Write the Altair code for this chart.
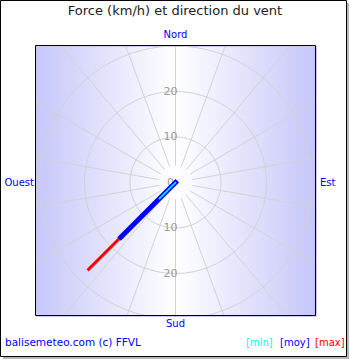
import altair as alt
import pandas as pd

# ---- data ----
series = ["min", "moy", "max"]
speeds = [5, 17, 27]
directions = [225, 225, 225]
series_colors = ["#00ffff", "#0000ff", "#ff0000"]
series_widths = [1.5, 5, 3]
legend_x = [211, 245, 280]

grid_radii = [10, 20, 30]
label_values = [0, 10, 20, 10, 20]
label_dirs = [0, 0, 0, 180, 180]

title_text = "Force (km/h) et direction du vent"
credit_text = "balisemeteo.com (c) FFVL"

K = 4.55  # px per km/h
CX, CY = 140.5, 137.5
W, H = 280, 270

xs = alt.Scale(domain=[-CX / K, (W - CX) / K])
ys = alt.Scale(domain=[-(H - CY) / K, CY / K])

def X(f):
    return alt.X(f, type="quantitative", scale=xs, axis=None)

def Y(f):
    return alt.Y(f, type="quantitative", scale=ys, axis=None)

one = alt.Data(values=[{}])

# outer frame + shadow
shadow = alt.Chart(one).mark_rect(fill="#b8b8b8").encode(
    x=alt.value(-32), x2=alt.value(314), y=alt.value(-42), y2=alt.value(314))
frame = alt.Chart(one).mark_rect(fill="white", stroke="black", strokeWidth=1).encode(
    x=alt.value(-34.5), x2=alt.value(311.5), y=alt.value(-44.5), y2=alt.value(311.5))

grad = alt.LinearGradient(
    gradient="linear", x1=0, x2=1, y1=0, y2=0,
    stops=[alt.GradientStop(offset=0, color="#c6c6fa"),
           alt.GradientStop(offset=0.5, color="#ffffff"),
           alt.GradientStop(offset=1, color="#c6c6fa")])
bg = alt.Chart(one).mark_rect(fill=grad).encode(
    x=alt.value(0), x2=alt.value(W), y=alt.value(0), y2=alt.value(H))
bshadow = alt.Chart(one).mark_rect(filled=False, stroke="#c8c8f0", strokeWidth=1).encode(
    x=alt.value(1.5), x2=alt.value(281.5), y=alt.value(1.5), y2=alt.value(271.5))

circles = alt.Chart(pd.DataFrame({"r": grid_radii})).transform_calculate(
    a="sequence(0, 362, 3)"
).transform_flatten(["a"]).transform_calculate(
    x="datum.r * sin(datum.a * PI / 180)",
    y="datum.r * cos(datum.a * PI / 180)",
).mark_line(clip=True, color="#d2d2d2", strokeWidth=1).encode(
    x=X("x"), y=Y("y"), detail="r:N", order="a:Q")

spokes = alt.Chart(alt.sequence(0, 360, 20, as_="d")).transform_calculate(
    x1="3.7 * sin(datum.d * PI / 180)",
    y1="3.7 * cos(datum.d * PI / 180)",
    x2="60 * sin(datum.d * PI / 180)",
    y2="60 * cos(datum.d * PI / 180)",
).mark_rule(clip=True, color="#d2d2d2", strokeWidth=1).encode(
    x=X("x1"), y=Y("y1"), x2="x2:Q", y2="y2:Q")

labels = alt.Chart(pd.DataFrame({"v": label_values, "d": label_dirs})).transform_calculate(
    x="datum.v * sin(datum.d * PI / 180)",
    y="datum.v * cos(datum.d * PI / 180)",
    t="'' + datum.v",
).mark_text(color="#999999", fontSize=11, font="DejaVu Sans", dx=-5, baseline="middle").encode(
    x=X("x"), y=Y("y"), text="t:N")

wind_df = pd.DataFrame({"serie": series, "v": speeds, "d": directions})

def wind_line(i):
    return alt.Chart(wind_df).transform_filter(
        alt.datum.serie == series[i]
    ).transform_calculate(
        x0="0", y0="0",
        x1="datum.v * sin(datum.d * PI / 180)",
        y1="datum.v * cos(datum.d * PI / 180)",
    ).mark_rule(strokeCap="square", color=series_colors[i], strokeWidth=series_widths[i]).encode(
        x=X("x0"), y=Y("y0"), x2="x1:Q", y2="y1:Q")

winds = [wind_line(2), wind_line(1), wind_line(0)]

border = alt.Chart(one).mark_rect(filled=False, stroke="black", strokeWidth=1).encode(
    x=alt.value(0.5), x2=alt.value(280.5), y=alt.value(0.5), y2=alt.value(270.5))

def txt(t, x, y, color, size=10, align="center"):
    return alt.Chart(one).mark_text(text=t, color=color, fontSize=size, font="DejaVu Sans",
                                    align=align, baseline="middle").encode(
        x=alt.value(x), y=alt.value(y))

title = txt(title_text, 140, -34, "#222222", 13)
nord = txt("Nord", 140.5, -10, "#0000ff")
sud = txt("Sud", 140.5, 279, "#0000ff")
ouest = txt("Ouest", -1, 138, "#0000ff", align="right")
est = txt("Est", 285, 138, "#0000ff", align="left")
credit = txt(credit_text, -30, 298, "#0000ff", 10.5, align="left")
legend = [txt("[" + s + "]", legend_x[i], 298, series_colors[i], 10, align="left")
          for i, s in enumerate(series)]

chart = alt.layer(
    shadow, frame, bg, bshadow, circles, spokes, labels, *winds, border,
    title, nord, sud, ouest, est, credit, *legend
).properties(
    width=W, height=H, autosize="none",
    padding={"left": 35, "top": 45, "right": 35, "bottom": 45},
).configure_view(stroke=None).configure(background="white")

chart.save("out.html", embed_options={"renderer": "svg", "actions": False})
